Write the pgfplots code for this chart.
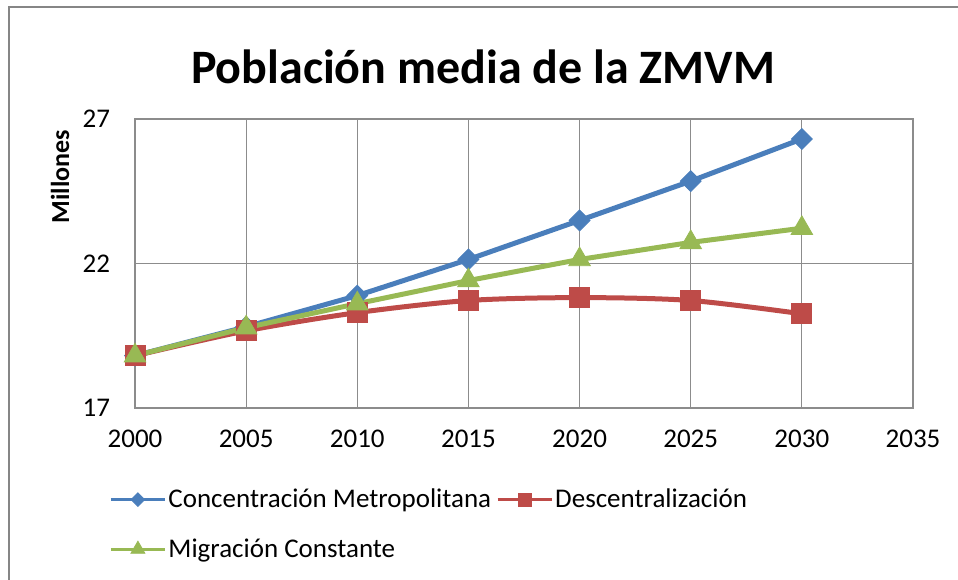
\documentclass[border=0pt]{standalone}
\usepackage{fontspec}
\setmainfont{Carlito}
\usepackage{pgfplots}
\pgfplotsset{compat=1.18}

\definecolor{cblue}{HTML}{4A7EBB}
\definecolor{cred}{HTML}{BE4B48}
\definecolor{cgreen}{HTML}{98B954}
\definecolor{gridgray}{HTML}{8C8C8C}
\definecolor{framegray}{HTML}{868686}

\begin{document}
\begin{tikzpicture}
\useasboundingbox (-67.5pt,-85.5pt) rectangle (411.5pt,204pt);
\draw[framegray, line width=1.4pt] (-63pt,-90pt) -- (-63pt,200.5pt) -- (415pt,200.5pt);
\node[anchor=base, font=\fontsize{24}{28}\selectfont\bfseries] at (174pt,162pt) {Población media de la ZMVM};
\begin{axis}[
    scale only axis,
    width=389pt, height=144.5pt,
    xmin=2000, xmax=2035, ymin=17, ymax=27,
    xtick={2000,2005,...,2035},
    ytick={17,22,27},
    xmajorgrids, ymajorgrids,
    grid style={gridgray, line width=0.6pt},
    axis line style={gridgray, line width=0.6pt},
    major tick style={draw=none},
    tick label style={font=\fontsize{13.5}{16}\selectfont, /pgf/number format/assume math mode=true},
    xticklabel style={/pgf/number format/1000 sep={}, yshift=-7.5pt},
    yticklabel style={xshift=-9pt},
    ylabel={Millones},
    ylabel style={font=\fontsize{13}{15}\selectfont\bfseries, at={(axis description cs:-0.0964,0.80)}, anchor=center},
    legend columns=2,
    legend cell align=left,
    legend style={draw=none, fill=none, inner sep=0pt,
        at={(axis description cs:-0.0334,-0.271)}, anchor=north west,
        font=\fontsize{13.5}{16}\selectfont,
        nodes={inner sep=1pt},
        /tikz/every even column/.append style={column sep=1.5pt},
        row sep=12pt},
    legend image code/.code={\draw[line width=1.5pt, every mark/.append style={scale=0.65}, mark repeat=2, mark phase=2]
        plot coordinates {(0pt,0pt) (13.5pt,0pt) (27pt,0pt)};},
    every axis plot/.append style={line width=2.5pt},
]
\addplot[cblue, mark=square*, mark size=3.7pt, mark options={rotate=45, solid, line width=0.4pt}]
coordinates {(2000,18.81) (2005,19.81) (2010,20.89) (2015,22.14) (2020,23.49) (2025,24.85) (2030,26.31)};
\addlegendentry{Concentración Metropolitana}
\addplot[cred, smooth, mark=square*, mark size=5pt, mark options={solid, line width=0.4pt}]
coordinates {(2000,18.81) (2005,19.67) (2010,20.30) (2015,20.72) (2020,20.82) (2025,20.72) (2030,20.26)};
\addlegendentry{Descentralización}
\addplot[cgreen, mark=triangle*, mark size=6.2pt, mark options={solid, line width=0.4pt}]
coordinates {(2000,18.81) (2005,19.78) (2010,20.61) (2015,21.41) (2020,22.14) (2025,22.73) (2030,23.22)};
\addlegendentry{Migración Constante}
\end{axis}
\end{tikzpicture}
\end{document}
